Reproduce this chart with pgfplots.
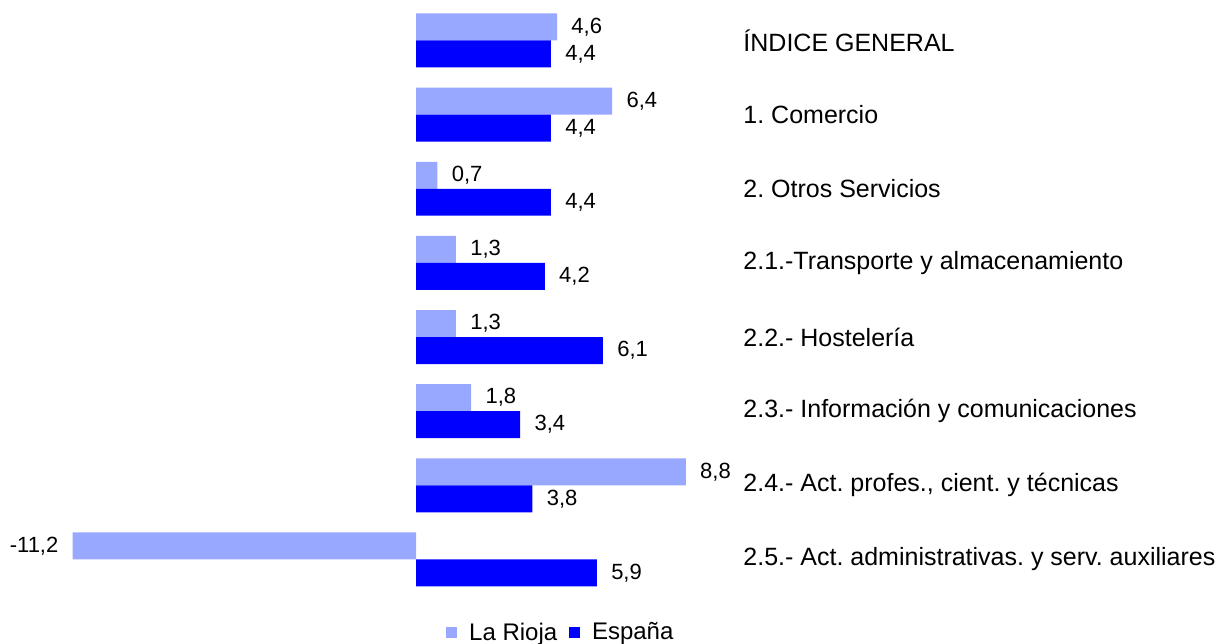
\documentclass[border=0pt]{standalone}
\usepackage{pgfplots}
\pgfplotsset{compat=1.18}
\usepackage{fontspec}
\setmainfont{Liberation Sans}
\definecolor{lr}{RGB}{153,168,255}
\definecolor{es}{RGB}{0,0,255}
\begin{document}
\frenchspacing
\begin{tikzpicture}
\begin{axis}[
  scale only axis, width=608pt, height=321.5pt,
  xmin=-13.573, xmax=26.10, ymin=-0.546, ymax=8.127, y dir=reverse,
  hide axis, clip=false,
  xbar, bar width=0.364,
  point meta=x,
  /pgf/number format/assume math mode=true,
  nodes near coords={\pgfmathprintnumber[fixed, fixed zerofill, precision=1, use comma]{\pgfplotspointmeta}},
  nodes near coords align={horizontal},
  every node near coord/.append style={font=\fontsize{11pt}{13pt}\selectfont, inner xsep=7pt, text=black},
  legend columns=2,
  legend style={at={(axis cs:4.76,7.99)}, anchor=center, draw=none, fill=none,
    font=\fontsize{12pt}{14pt}\selectfont, column sep=4pt, inner sep=0pt},
  legend image code/.code={\fill[#1] (0pt,-2.8pt) rectangle (5.4pt,2.8pt);},
]
\addplot[fill=lr, draw=none, bar shift=-0.182] coordinates {(4.6,0) (6.4,1) (0.7,2) (1.3,3) (1.3,4) (1.8,5) (8.8,6) (-11.2,7)};
\addlegendentry{La Rioja}
\addplot[fill=es, draw=none, bar shift=0.182] coordinates {(4.4,0) (4.4,1) (4.4,2) (4.2,3) (6.1,4) (3.4,5) (3.8,6) (5.9,7)};
\addlegendentry{España}
\begin{scope}[every node/.style={anchor=west, font=\fontsize{12.5pt}{14pt}\selectfont, inner sep=0pt}]
\node at (axis cs:10.67,0) {ÍNDICE GENERAL};
\node at (axis cs:10.67,1) {1. Comercio};
\node at (axis cs:10.67,2) {2. Otros Servicios};
\node at (axis cs:10.67,3) {2.1.-Transporte y almacenamiento};
\node at (axis cs:10.67,4) {2.2.- Hostelería};
\node at (axis cs:10.67,5) {2.3.- Información y comunicaciones};
\node at (axis cs:10.67,6) {2.4.- Act. profes., cient. y técnicas};
\node at (axis cs:10.67,7) {2.5.- Act. administrativas. y serv. auxiliares};
\end{scope}
\coordinate (SW) at (rel axis cs:0,0);
\coordinate (NE) at (rel axis cs:1,1);
\end{axis}
\pgfresetboundingbox
\path[use as bounding box] (SW) rectangle (NE);
\end{tikzpicture}
\end{document}
